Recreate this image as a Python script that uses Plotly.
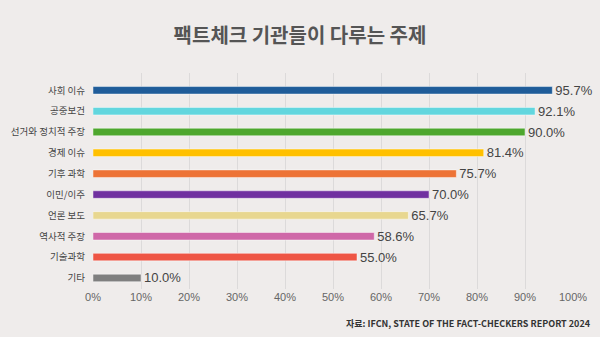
import plotly.graph_objects as go

categories = ["사회 이슈", "공중보건", "선거와 정치적 주장", "경제 이슈", "기후 과학",
              "이민/이주", "언론 보도", "역사적 주장", "기술과학", "기타"]
values = [95.7, 92.1, 90.0, 81.4, 75.7, 70.0, 65.7, 58.6, 55.0, 10.0]
colors = ["#1F5C99", "#62D6DE", "#4EA72E", "#FFC000", "#ED7336",
          "#7030A0", "#E8D78F", "#CF68A8", "#EE5544", "#7F7F7F"]
x_ticks = [0, 10, 20, 30, 40, 50, 60, 70, 80, 90, 100]
x_tick_labels = [f"{t}%" for t in x_ticks]
title = "팩트체크 기관들이 다루는 주제"
source = "자료: IFCN, STATE OF THE FACT-CHECKERS REPORT 2024"

bg = "#EFECEB"

fig = go.Figure(go.Bar(
    x=values,
    y=categories,
    orientation="h",
    marker=dict(color=colors, line=dict(color="rgba(255,255,255,0.45)", width=1)),
    width=0.36,
    text=[f"{v:.1f}%" for v in values],
    textposition="outside",
    constraintext="none",
    textfont=dict(family="Liberation Sans, Arial", size=13, color="#444444"),
    cliponaxis=False,
    hoverinfo="skip",
))

fig.update_layout(
    width=600, height=337,
    paper_bgcolor=bg, plot_bgcolor=bg,
    margin=dict(l=93, r=27, t=73, b=48),
    showlegend=False,
    title=dict(text=title, x=0.5, xanchor="center", y=1 - 36/337, yanchor="middle",
               font=dict(family="Noto Sans CJK KR", size=20, color="#555555", weight="bold")),
    xaxis=dict(range=[0, 100], tickvals=x_ticks, ticktext=x_tick_labels,
               showgrid=True, gridcolor="#DCDADA", gridwidth=1, zeroline=False,
               showline=False, ticks="",
               tickfont=dict(family="Liberation Sans, Arial", size=11, color="#666666")),
    yaxis=dict(type="category", categoryorder="array", categoryarray=categories,
               range=[9.53, -0.83], showgrid=False, zeroline=False, showline=False,
               ticks="", ticklabelstandoff=7,
               tickfont=dict(family="Noto Sans CJK KR", size=9.5, color="#444444")),
    annotations=[dict(text=source, xref="paper", yref="paper",
                      x=(593 - 93) / 480, xanchor="right",
                      y=-(323 - 289) / 216, yanchor="middle", showarrow=False,
                      font=dict(family="Noto Sans CJK KR", size=9, color="#333333", weight="bold"))],
)

fig.write_html("out.html")
